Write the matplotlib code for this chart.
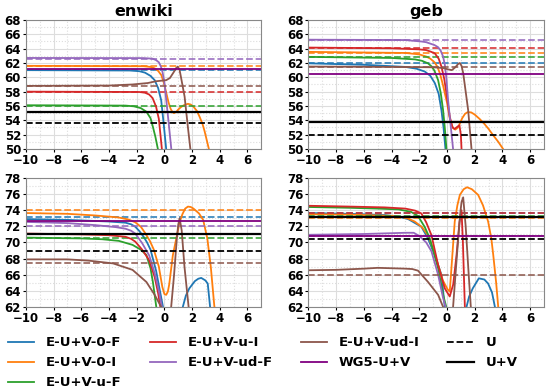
import matplotlib

matplotlib.use("Agg")
import matplotlib.pyplot as plt
from matplotlib.ticker import MultipleLocator

# method names and colours
METHODS = ["E-U+V-0-F", "E-U+V-0-I", "E-U+V-u-F", "E-U+V-u-I", "E-U+V-ud-F", "E-U+V-ud-I"]
COLORS = ["#1f77b4", "#ff7f0e", "#2ca02c", "#d62728", "#9467bd", "#8c564b"]
WG5_COLOR = "#800080"
TITLES = ["enwiki", "geb"]
XTICKS = [-10, -8, -6, -4, -2, 0, 2, 4, 6]

# ---- enwiki, top row ----
ew_top_0F = [(-10, 61.0), (-2.5, 60.95), (-1.8, 60.85), (-1.4, 60.65), (-1.0, 60.2), (-0.7, 59.6), (-0.45, 58.5),
             (-0.23, 56.8), (-0.05, 53.5), (0.13, 50.0), (0.2, 48.0)]
ew_top_0I = [(-10, 61.6), (-1.5, 61.55), (-1.0, 61.45), (-0.7, 61.25), (-0.45, 60.9), (-0.22, 60.3), (-0.05, 59.3),
             (0.14, 57.8), (0.3, 56.5), (0.45, 55.6), (0.6, 55.1), (0.69, 55.0), (0.85, 55.15), (1.0, 55.5), (1.2, 55.85),
             (1.4, 56.1), (1.7, 56.3), (1.9, 56.2), (2.1, 55.9), (2.35, 55.3), (2.54, 54.5), (2.75, 53.5), (2.9, 52.5),
             (3.05, 51.3), (3.2, 50.1), (3.3, 49.0)]
ew_top_uF = [(-10, 56.1), (-2.8, 56.05), (-2.2, 55.95), (-1.7, 55.7), (-1.3, 55.2), (-1.0, 54.3), (-0.83, 53.1),
             (-0.65, 51.7), (-0.47, 50.0), (-0.4, 48.0)]
ew_top_uI = [(-10, 58.0), (-1.8, 57.95), (-1.4, 57.85), (-1.1, 57.6), (-0.85, 57.1), (-0.6, 55.9), (-0.4, 54.2),
             (-0.18, 50.0), (-0.1, 48.0)]
ew_top_udF = [(-10, 62.7), (-1.5, 62.68), (-0.85, 62.6), (-0.6, 62.4), (-0.4, 62.1), (-0.25, 61.5), (-0.13, 60.7),
              (0.0, 59.3), (0.1, 57.5), (0.3, 53.8), (0.5, 50.0), (0.6, 48.0)]
ew_top_udI = [(-10, 58.8), (-4, 58.85), (-2.3, 59.0), (-1.2, 59.2), (-0.6, 59.45), (0.13, 59.6), (0.4, 59.9), (0.7, 60.8),
              (0.85, 61.3), (0.97, 61.5), (1.1, 61.0), (1.2, 60.0), (1.46, 57.3), (1.7, 53.0), (1.87, 50.1), (1.95, 48.5)]
ew_top_dashed = [61.0, 61.6, 56.0, 58.0, 62.6, 58.8]
ew_top_wg5, ew_top_u, ew_top_uv = 61.2, 53.6, 55.1

# ---- geb, top row ----
geb_top_0F = [(-10, 61.95), (-6, 61.75), (-3, 61.45), (-2.2, 61.2), (-1.6, 60.8), (-1.2, 60.2), (-0.88, 59.2),
              (-0.6, 57.7), (-0.4, 55.4), (-0.25, 53.0), (-0.11, 50.0), (-0.05, 48.0)]
geb_top_0I = [(-10, 63.55), (-3, 63.4), (-2, 63.2), (-1.5, 62.9), (-1.2, 62.6), (-0.9, 62.1), (-0.7, 61.5), (-0.5, 60.5),
              (-0.3, 59.0), (-0.1, 57.3), (0.0, 56.5), (0.2, 54.3), (0.35, 53.3), (0.45, 52.9), (0.6, 52.7), (0.8, 53.0),
              (1.1, 54.3), (1.3, 54.9), (1.5, 55.15), (1.75, 55.1), (2.0, 54.8), (2.35, 54.2), (2.7, 53.5), (3.0, 52.8),
              (3.3, 52.0), (3.7, 51.0), (4.05, 50.0), (4.15, 49.5)]
geb_top_uF = [(-10, 62.85), (-4, 62.7), (-2.3, 62.5), (-1.8, 62.3), (-1.37, 61.95), (-1.1, 61.5), (-0.9, 60.9),
              (-0.64, 59.6), (-0.45, 57.8), (-0.28, 55.4), (-0.15, 52.8), (-0.04, 50.0), (0.0, 48.0)]
geb_top_uI = [(-10, 64.15), (-4, 64.05), (-2, 63.9), (-1.5, 63.8), (-1.2, 63.6), (-0.88, 63.35), (-0.6, 62.6),
              (-0.4, 61.5), (-0.2, 59.8), (-0.04, 57.8), (0.2, 54.5), (0.4, 53.0), (0.55, 52.8), (0.75, 53.1), (0.9, 53.3),
              (1.0, 52.0), (1.05, 50.0), (1.1, 48.0)]
geb_top_udF = [(-10, 65.25), (-3, 65.2), (-1.85, 65.0), (-1.5, 64.9), (-1.2, 64.7), (-0.9, 64.5), (-0.64, 64.2),
               (-0.45, 63.7), (-0.28, 62.9), (-0.15, 61.7), (-0.05, 60.0), (0.08, 56.8), (0.44, 50.0), (0.5, 48.0)]
geb_top_udI = [(-10, 61.5), (-4, 61.45), (-1.0, 61.4), (-0.3, 61.3), (0.1, 61.1), (0.35, 61.0), (0.6, 61.4), (0.8, 61.85),
               (0.93, 62.0), (1.05, 61.6), (1.17, 60.6), (1.35, 58.0), (1.53, 55.4), (1.77, 50.0), (1.85, 48.5)]
geb_top_dashed = [62.05, 63.4, 62.8, 64.1, 65.2, 61.5]
geb_top_wg5, geb_top_u, geb_top_uv = 60.4, 52.0, 53.7

# ---- enwiki, bottom row ----
ew_bot_0F = [(-10, 72.9), (-7, 72.8), (-4, 72.6), (-2.8, 72.45), (-2.4, 72.25), (-2.1, 71.95), (-1.8, 71.4), (-1.5, 70.7),
             (-1.25, 70.0), (-1.0, 69.1), (-0.6, 66.5), (-0.3, 63.8), (-0.1, 62.0), (0.0, 60.0), (1.2, 60.0), (1.33, 62.0),
             (1.55, 63.4), (1.8, 64.3), (2.2, 65.2), (2.45, 65.5), (2.66, 65.6), (2.95, 65.3), (3.13, 64.9), (3.3, 62.0),
             (3.4, 60.0)]
ew_bot_0I = [(-10, 73.65), (-7, 73.55), (-5, 73.35), (-3.3, 73.1), (-2.6, 72.85), (-2.1, 72.5), (-1.7, 71.95), (-1.4, 71.2),
             (-1.05, 70.2), (-0.76, 69.1), (-0.4, 67.0), (-0.15, 64.5), (0.0, 63.6), (0.13, 63.5), (0.25, 63.9), (0.35, 64.8),
             (0.61, 68.4), (0.93, 71.1), (1.1, 72.5), (1.3, 73.5), (1.5, 74.2), (1.7, 74.45), (1.9, 74.4), (2.1, 74.2),
             (2.5, 73.6), (2.8, 72.8), (3.1, 70.5), (3.35, 67.0), (3.6, 62.2), (3.65, 61.5)]
ew_bot_uF = [(-10, 70.6), (-6, 70.5), (-4.5, 70.4), (-3.3, 70.2), (-2.3, 69.7), (-1.7, 69.1), (-1.3, 68.45), (-1.0, 66.8),
             (-0.83, 65.1), (-0.6, 62.2), (-0.5, 61.0)]
ew_bot_uI = [(-10, 71.1), (-6, 71.0), (-4, 70.9), (-2.8, 70.7), (-2.4, 70.45), (-2.1, 70.1), (-1.6, 69.1), (-1.1, 67.8),
             (-0.7, 65.7), (-0.45, 63.7), (-0.29, 62.0), (-0.2, 61.0)]
ew_bot_udF = [(-10, 72.55), (-7, 72.4), (-5, 72.15), (-3.5, 71.9), (-2.8, 71.7), (-2.4, 71.45), (-2.1, 71.1), (-1.6, 69.9),
              (-1.1, 68.4), (-0.7, 66.2), (-0.4, 64.0), (-0.18, 62.0), (-0.1, 61.0)]
ew_bot_udI = [(-10, 67.9), (-7, 67.9), (-5.5, 67.75), (-3.7, 67.4), (-2.3, 66.6), (-1.3, 65.1), (-0.7, 63.5), (-0.23, 62.0),
              (-0.1, 60.0), (0.4, 60.0), (0.49, 62.0), (0.7, 66.0), (0.9, 70.5), (1.0, 72.2), (1.1, 73.0), (1.25, 71.5),
              (1.45, 67.0), (1.75, 62.0), (1.85, 60.0)]
ew_bot_dashed = [73.15, 74.0, 70.6, 71.1, 72.0, 67.5]
ew_bot_wg5, ew_bot_u, ew_bot_uv = 72.6, 68.95, 71.05

# ---- geb, bottom row ----
geb_bot_0F = [(-10, 73.65), (-7, 73.55), (-4.5, 73.4), (-3.5, 73.2), (-2.8, 72.9), (-2.2, 72.3), (-1.85, 71.95),
              (-1.4, 70.6), (-0.9, 68.5), (-0.4, 66.0), (-0.16, 62.0), (-0.1, 60.0), (1.3, 60.0), (1.41, 62.0), (1.6, 63.3),
              (1.86, 64.3), (2.3, 65.55), (2.7, 65.4), (2.97, 64.9), (3.25, 63.8), (3.46, 62.0), (3.55, 60.0)]
geb_bot_0I = [(-10, 73.5), (-7, 73.45), (-4, 73.3), (-3, 73.1), (-2.33, 72.6), (-1.8, 71.9), (-1.37, 70.9), (-1.0, 69.2),
              (-0.64, 67.2), (-0.3, 65.3), (0.04, 64.2), (0.2, 63.9), (0.35, 67.5), (0.56, 72.6), (0.75, 74.6), (0.93, 75.9),
              (1.2, 76.6), (1.45, 76.85), (1.8, 76.6), (2.25, 75.9), (2.6, 74.6), (2.97, 72.6), (3.2, 70.5), (3.34, 68.45),
              (3.55, 65.0), (3.7, 62.0), (3.75, 61.0)]
geb_bot_uF = [(-10, 74.4), (-7, 74.3), (-5, 74.2), (-3.5, 74.1), (-2.6, 73.8), (-2.1, 73.3), (-1.6, 71.9), (-1.24, 70.5),
              (-0.64, 66.8), (-0.28, 63.5), (-0.05, 62.0), (0.05, 61.0)]
geb_bot_uI = [(-10, 74.55), (-7, 74.45), (-4.5, 74.35), (-3, 74.2), (-2.3, 73.95), (-1.85, 73.6), (-1.5, 72.5),
              (-1.12, 70.9), (-0.64, 67.2), (-0.16, 64.3), (0.2, 63.3), (0.45, 64.8), (0.69, 68.45), (0.9, 72.5),
              (1.05, 74.0), (1.15, 70.0), (1.29, 62.0), (1.35, 60.0)]
geb_bot_udF = [(-10, 70.95), (-8, 71.0), (-6, 71.05), (-4, 71.15), (-3, 71.2), (-2.4, 71.2), (-2.0, 70.8), (-1.5, 70.0),
               (-1.12, 68.9), (-0.64, 66.0), (-0.28, 63.1), (-0.1, 62.0), (0.0, 61.0)]
geb_bot_udI = [(-10, 66.55), (-8, 66.6), (-6, 66.75), (-5, 66.85), (-4, 66.8), (-3, 66.75), (-2.5, 66.7), (-2.09, 66.5),
               (-1.37, 65.1), (-0.64, 63.5), (-0.28, 62.0), (-0.2, 60.0), (0.35, 60.0), (0.44, 62.0), (0.7, 68.0),
               (0.95, 73.5), (1.05, 75.0), (1.17, 75.6), (1.35, 72.0), (1.55, 66.5), (1.72, 62.0), (1.8, 60.0)]
geb_bot_dashed = [73.6, 73.0, 73.3, 73.6, 70.8, 66.0]
geb_bot_wg5, geb_bot_u, geb_bot_uv = 70.8, 70.4, 73.2

PANELS = [
    ([ew_top_0F, ew_top_0I, ew_top_uF, ew_top_uI, ew_top_udF, ew_top_udI], ew_top_dashed, ew_top_wg5, ew_top_u, ew_top_uv),
    ([geb_top_0F, geb_top_0I, geb_top_uF, geb_top_uI, geb_top_udF, geb_top_udI], geb_top_dashed, geb_top_wg5, geb_top_u, geb_top_uv),
    ([ew_bot_0F, ew_bot_0I, ew_bot_uF, ew_bot_uI, ew_bot_udF, ew_bot_udI], ew_bot_dashed, ew_bot_wg5, ew_bot_u, ew_bot_uv),
    ([geb_bot_0F, geb_bot_0I, geb_bot_uF, geb_bot_uI, geb_bot_udF, geb_bot_udI], geb_bot_dashed, geb_bot_wg5, geb_bot_u, geb_bot_uv),
]
YLIMS = [(50, 68), (50, 68), (62, 78), (62, 78)]

plt.rcParams["font.weight"] = "bold"
fig, axes = plt.subplots(2, 2, figsize=(5.5, 3.92), dpi=100)
fig.subplots_adjust(left=0.047, right=0.989, top=0.949, bottom=0.217, wspace=0.2, hspace=0.225)

for i, ax in enumerate(axes.flat):
    curves, dashed, wg5, u, uv = PANELS[i]
    for j, pts in enumerate(curves):
        xs = [p[0] for p in pts]
        ys = [p[1] for p in pts]
        ax.plot(xs, ys, color=COLORS[j], lw=1.3, label=METHODS[j])
        ax.axhline(dashed[j], color=COLORS[j], ls="--", lw=1.3, alpha=0.85)
    ax.axhline(wg5, color=WG5_COLOR, lw=1.3, label="WG5-U+V")
    ax.axhline(u, color="black", ls="--", lw=1.3, label="U")
    ax.axhline(uv, color="black", lw=1.6, label="U+V")

    ax.set_xlim(-10, 7)
    ax.set_ylim(*YLIMS[i])
    ax.set_xticks(XTICKS)
    ax.yaxis.set_major_locator(MultipleLocator(2))
    ax.xaxis.set_minor_locator(MultipleLocator(1))
    ax.yaxis.set_minor_locator(MultipleLocator(1))
    ax.grid(which="major", color="#dddddd", lw=0.8)
    ax.grid(which="minor", color="#dddddd", lw=0.8, ls=":")
    ax.tick_params(labelsize=8.5, length=2.5, pad=1)
    ax.tick_params(which="minor", length=0)
    for lab in ax.get_xticklabels() + ax.get_yticklabels():
        lab.set_fontweight("bold")
    for sp in ax.spines.values():
        sp.set_color("#888888")
    if i < 2:
        ax.set_title(TITLES[i], fontsize=11.5, fontweight="bold", pad=3)

handles, labels = axes[0, 0].get_legend_handles_labels()
fig.legend(handles, labels, loc="upper left", bbox_to_anchor=(0.0, 0.162), ncol=4, frameon=False,
           prop={"size": 9.5, "weight": "bold"}, handlelength=2.0, columnspacing=2.1,
           labelspacing=0.52, handletextpad=0.9, borderaxespad=0.2)

fig.savefig("out.png", dpi=100)
